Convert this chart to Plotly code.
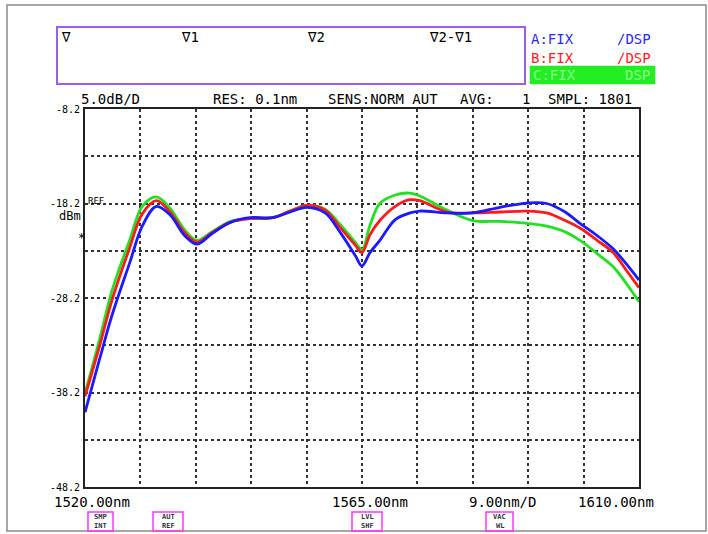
import plotly.graph_objects as go

# ---------------- data ----------------
wavelength_nm = [1520.0, 1522.4, 1524.4, 1527.3, 1529.3, 1531.6, 1533.8, 1536.2, 1538.2, 1540.6,
                 1543.6, 1546.8, 1550.5, 1553.3, 1556.1, 1559.0, 1561.4, 1563.9, 1565.0, 1566.3,
                 1567.9, 1570.4, 1572.8, 1574.4, 1578.8, 1583.0, 1587.4, 1591.8, 1595.0, 1598.0,
                 1600.4, 1603.2, 1605.8, 1608.2, 1610.0]

trace_a_dbm = [-40.3, -34.6, -30.0, -24.4, -20.6, -18.5, -19.4, -21.6, -22.5, -21.4,
               -20.2, -19.7, -19.7, -19.1, -18.6, -19.2, -21.2, -23.7, -24.8, -23.4,
               -22.1, -19.9, -19.2, -19.0, -19.2, -19.2, -18.6, -18.15, -18.2, -19.1,
               -20.3, -21.6, -23.0, -24.8, -26.3]

trace_b_dbm = [-38.6, -33.2, -28.4, -22.8, -19.3, -17.9, -19.1, -21.3, -22.3, -21.3,
               -20.2, -19.8, -19.7, -19.0, -18.4, -18.9, -20.7, -22.6, -23.4, -21.5,
               -20.0, -18.5, -17.8, -17.9, -19.1, -19.2, -19.1, -19.0, -19.2, -20.0,
               -20.8, -22.1, -23.4, -25.5, -27.1]

trace_c_dbm = [-38.3, -32.5, -27.4, -22.0, -18.5, -17.5, -18.7, -21.0, -22.1, -21.2,
               -20.1, -19.8, -19.7, -19.0, -18.4, -18.8, -20.4, -22.3, -23.1, -20.5,
               -18.2, -17.3, -17.1, -17.4, -18.9, -20.0, -20.1, -20.3, -20.6, -21.2,
               -22.1, -23.5, -24.9, -26.9, -28.6]

x_start, x_stop, x_step = 1520.0, 1610.0, 9.0
y_top, y_bottom, y_step = -8.2, -48.2, 5.0
y_label_vals = [-8.2, -18.2, -28.2, -38.2, -48.2]
y_label_text = ["-8.2", "-18.2", "-28.2", "-38.2", "-48.2"]

# ---------------- figure geometry ----------------
W, H = 708, 534
L, R, T, B = 85, 639, 109, 487

def px(x):
    return (x - L) / (R - L)

def py(y):
    return (B - y) / (B - T)

MONO = "DejaVu Sans Mono"

fig = go.Figure()
fig.add_trace(go.Scatter(x=wavelength_nm, y=trace_c_dbm, mode="lines",
                         line=dict(color="#22e022", width=2.8, shape="spline", smoothing=1.0),
                         name="C", showlegend=False, hoverinfo="skip"))
fig.add_trace(go.Scatter(x=wavelength_nm, y=trace_b_dbm, mode="lines",
                         line=dict(color="#ff1a1a", width=2.8, shape="spline", smoothing=1.0),
                         name="B", showlegend=False, hoverinfo="skip"))
fig.add_trace(go.Scatter(x=wavelength_nm, y=trace_a_dbm, mode="lines",
                         line=dict(color="#1a1aff", width=2.8, shape="spline", smoothing=1.0),
                         name="A", showlegend=False, hoverinfo="skip"))

grid_vals = [round(y_bottom + i * y_step, 1) for i in range(9)]
grid_text = []
for v in grid_vals:
    lab = ""
    for u, t in zip(y_label_vals, y_label_text):
        if abs(u - v) < 1e-6:
            lab = t
    grid_text.append(lab)

fig.update_layout(
    width=W, height=H,
    margin=dict(l=L, r=W - R, t=T, b=H - B),
    paper_bgcolor="white", plot_bgcolor="white",
    font=dict(family=MONO, size=13, color="black"),
    xaxis=dict(range=[x_start, x_stop], tick0=x_start, dtick=x_step, showticklabels=False,
               showgrid=True, gridcolor="#333333", griddash="dot", gridwidth=1.5,
               showline=True, mirror=True, linecolor="#222222", linewidth=2,
               zeroline=False, ticks=""),
    yaxis=dict(range=[y_bottom, y_top], tickmode="array",
               tickvals=grid_vals, ticktext=grid_text,
               showgrid=True, gridcolor="#333333", griddash="dot", gridwidth=1.5,
               showline=True, mirror=True, linecolor="#222222", linewidth=2,
               zeroline=False, ticks="", ticklabelstandoff=1,
               tickfont=dict(family=MONO, size=10, color="black")),
)

def text(x, y, s, size=13, color="black", anchor="left", bg=None, font=MONO):
    fig.add_annotation(x=px(x), y=py(y), xref="paper", yref="paper", text=s, showarrow=False,
                       xanchor=anchor, yanchor="middle", font=dict(family=font, size=size, color=color),
                       bgcolor=bg, borderpad=0)

def rect(x0, y0, x1, y1, color, width=1.5, fill=None):
    fig.add_shape(type="rect", xref="paper", yref="paper", x0=px(x0), x1=px(x1), y0=py(y1), y1=py(y0),
                  line=dict(color=color, width=width), fillcolor=fill, layer="above")

# outer frame
rect(7, 5, 706, 531, "#8a8a8a", 1.5)

# marker box
rect(57, 27, 525, 84, "#9b5cf2", 2)
text(60, 37, "∇", 14)
text(180, 37, "∇1", 14)
text(306, 37, "∇2", 14)
text(428, 37, "∇2-∇1", 14)

# trace status
text(530, 39, "A:FIX", 14, "#2a2aff")
text(616, 39, "∕DSP", 14, "#2a2aff")
text(530, 58, "B:FIX", 14, "#ff2020")
text(616, 58, "∕DSP", 14, "#ff2020")
rect(530, 66, 655, 84, "#22ee22", 0.5, "#22ee22")
text(532, 75, "C:FIX", 14, "#8cff8c")
text(624, 75, "DSP", 14, "#8cff8c")

# status line
text(80, 99, "5.0dB/D", 14)
text(212, 99, "RES: 0.1nm", 14)
text(327, 99, "SENS:NORM AUT", 14)
text(459, 99, "AVG:", 14)
text(521, 99, "1", 14)
text(547, 99, "SMPL: 1801", 14)

# y-axis side labels
text(87, 201, "REF", 9)
text(58, 216, "dBm", 12)
text(77, 238, "*", 12)

# x-axis labels
text(53, 502, "1520.00nm", 14)
text(331, 502, "1565.00nm", 14)
text(468, 502, "9.00nm∕D", 14)
text(577, 502, "1610.00nm", 14)

# soft keys
for x0, x1, l1, l2 in [(88, 113, "SMP", "INT"), (153, 183, "AUT", "REF"),
                       (352, 382, "LVL", "SHF"), (486, 513, "VAC", "WL")]:
    rect(x0, 512, x1, 531, "#ff33ff", 1.5)
    for yy, s in [(516.8, l1), (526.2, l2)]:
        fig.add_annotation(x=px((x0 + x1) / 2), y=py(yy), xref="paper", yref="paper",
                           text="<b>" + s + "</b>", showarrow=False, xanchor="center", yanchor="middle",
                           font=dict(family=MONO, size=7, color="#333333"))

fig.write_html("out.html", config={"displayModeBar": False},
               post_script="document.body.style.margin='0px';")
